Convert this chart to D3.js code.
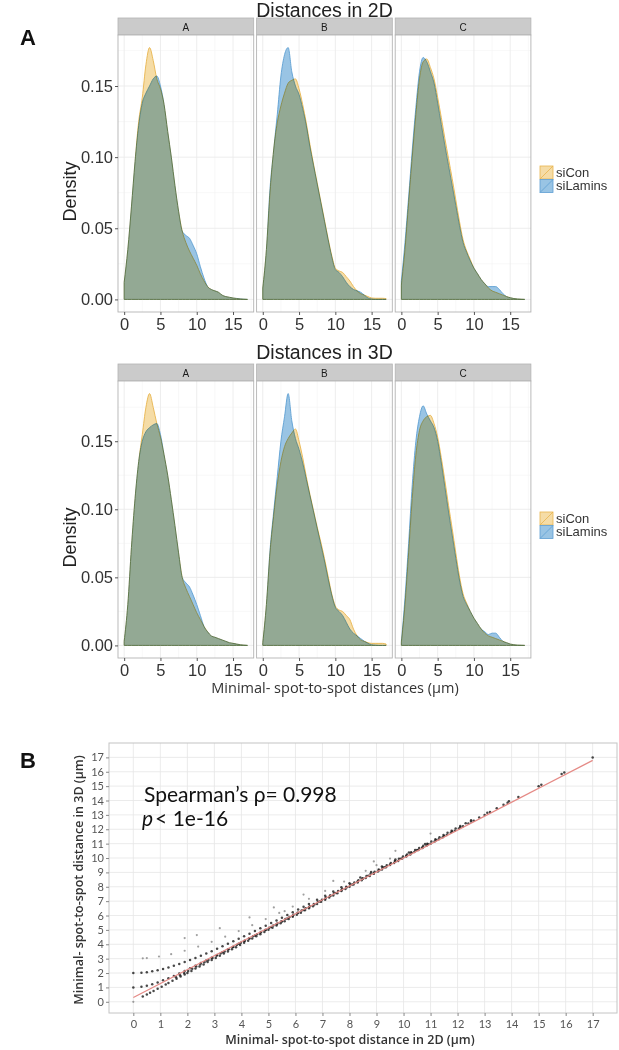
<!DOCTYPE html>
<html><head><meta charset="utf-8">
<script src="https://cdn.jsdelivr.net/npm/d3@7"></script>
<style>body{margin:0;background:#fff}svg{display:block}</style>
</head><body>
<svg id="c" width="619" height="1050"></svg>
<script>
// ---------------- DATA ----------------
const facets = ["A", "B", "C"];
const groups = ["siCon", "siLamins"];
const gridX = [0,0.5,1,1.5,2,2.5,3,3.5,4,4.5,5,5.5,6,6.5,7,7.5,8,8.5,9,9.5,10,10.5,11,11.5,12,12.5,13,13.5,14,14.5,15,15.5,16,16.5,17];
const densTicks = [0, 0.05, 0.10, 0.15];
const distTicks = [0, 5, 10, 15];

// Distances in 2D – density estimates at gridX
const d2A_siCon    = [0.012,0.035,0.065,0.097,0.125,0.142,0.165,0.177,0.168,0.155,0.148,0.137,0.118,0.100,0.080,0.062,0.048,0.040,0.034,0.029,0.024,0.018,0.013,0.009,0.007,0.006,0.005,0.003,0.002,0.0015,0.001,0.0006,0.0003,0.0001,0];
const d2A_siLamins = [0.012,0.035,0.065,0.097,0.122,0.138,0.145,0.150,0.155,0.157,0.150,0.137,0.118,0.100,0.080,0.062,0.048,0.045,0.043,0.038,0.032,0.023,0.015,0.009,0.007,0.006,0.005,0.003,0.002,0.0015,0.001,0.0007,0.0004,0.0002,0];
const d2B_siCon    = [0.008,0.035,0.075,0.105,0.124,0.136,0.145,0.152,0.154,0.155,0.148,0.137,0.124,0.109,0.095,0.082,0.069,0.056,0.043,0.031,0.022,0.020,0.019,0.016,0.013,0.009,0.006,0.004,0.003,0.002,0.001,0.0008,0.0008,0.0008,0.0005];
const d2B_siLamins = [0.008,0.035,0.078,0.105,0.130,0.157,0.172,0.177,0.160,0.150,0.144,0.134,0.122,0.107,0.094,0.081,0.068,0.055,0.042,0.030,0.021,0.019,0.016,0.012,0.009,0.007,0.006,0.005,0.003,0.001,0.0003,0,0,0,0];
const d2C_siCon    = [0.010,0.035,0.068,0.100,0.130,0.155,0.167,0.169,0.163,0.155,0.142,0.128,0.113,0.099,0.085,0.070,0.055,0.042,0.034,0.028,0.022,0.018,0.014,0.011,0.008,0.006,0.005,0.004,0.003,0.002,0.0012,0.0006,0.0003,0.0001,0];
const d2C_siLamins = [0.013,0.040,0.072,0.105,0.135,0.160,0.170,0.167,0.160,0.152,0.138,0.123,0.108,0.094,0.080,0.066,0.052,0.040,0.033,0.027,0.022,0.018,0.014,0.011,0.009,0.009,0.009,0.007,0.004,0.002,0.0012,0.0006,0.0003,0.0001,0];

// Distances in 3D
const d3A_siCon    = [0.003,0.030,0.072,0.108,0.135,0.155,0.175,0.185,0.175,0.163,0.153,0.140,0.125,0.107,0.088,0.068,0.050,0.042,0.036,0.030,0.024,0.019,0.014,0.010,0.007,0.006,0.005,0.004,0.003,0.002,0.0015,0.001,0.0005,0.0002,0];
const d3A_siLamins = [0.003,0.030,0.072,0.108,0.135,0.150,0.157,0.160,0.162,0.163,0.155,0.140,0.125,0.107,0.088,0.068,0.050,0.046,0.043,0.037,0.030,0.022,0.014,0.010,0.007,0.006,0.005,0.004,0.003,0.002,0.0015,0.001,0.0005,0.0002,0];
const d3B_siCon    = [0.002,0.030,0.068,0.095,0.118,0.135,0.146,0.152,0.156,0.159,0.150,0.138,0.124,0.111,0.099,0.087,0.076,0.064,0.051,0.038,0.029,0.026,0.025,0.022,0.019,0.012,0.007,0.004,0.003,0.002,0.0015,0.0015,0.0015,0.0015,0.001];
const d3B_siLamins = [0.002,0.030,0.070,0.098,0.124,0.150,0.168,0.185,0.165,0.152,0.144,0.134,0.122,0.110,0.098,0.086,0.074,0.062,0.049,0.037,0.028,0.025,0.022,0.017,0.012,0.009,0.007,0.005,0.003,0.0015,0.0005,0.0002,0,0,0];
const d3C_siCon    = [0.002,0.030,0.068,0.108,0.140,0.158,0.165,0.168,0.169,0.163,0.153,0.138,0.121,0.103,0.086,0.068,0.051,0.038,0.031,0.025,0.020,0.016,0.012,0.009,0.007,0.006,0.005,0.004,0.003,0.002,0.001,0.0005,0.0002,0.0001,0];
const d3C_siLamins = [0.003,0.035,0.075,0.118,0.150,0.168,0.176,0.170,0.165,0.160,0.150,0.134,0.116,0.098,0.081,0.064,0.048,0.036,0.030,0.025,0.020,0.016,0.012,0.010,0.008,0.009,0.009,0.006,0.003,0.002,0.001,0.0005,0.0002,0.0001,0];

// Panel B: 2D vs 3D minimal distances [2D, 3D]
const sameLayer = [[0.35,0.36],[0.5,0.5],[0.62,0.63],[0.75,0.75],[0.9,0.91],[1.05,1.05],[1.2,1.21],[1.3,1.3],[1.45,1.46],[1.6,1.6],[1.75,1.76],[1.9,1.9],[2.0,2.01],[2.15,2.15],[2.3,2.31],[2.45,2.45],[2.6,2.6],[2.75,2.76],[2.9,2.9],[3.05,3.05],[3.2,3.21],[3.35,3.35],[3.5,3.5],[3.65,3.66],[3.8,3.8],[3.95,3.95],[4.1,4.11],[4.25,4.25],[4.4,4.4],[4.55,4.56],[4.7,4.7],[4.85,4.85],[5.0,5.01],[5.15,5.15],[5.3,5.3],[5.45,5.46],[5.6,5.6],[5.75,5.75],[5.9,5.91],[6.05,6.05],[6.2,6.2],[6.35,6.36],[6.5,6.5],[6.65,6.65],[6.8,6.81],[6.95,6.95],[7.1,7.1],[7.25,7.26],[7.4,7.4],[7.55,7.55],[7.7,7.71],[7.85,7.85],[8.0,8.0],[8.15,8.16],[8.3,8.3],[8.45,8.45],[8.6,8.61],[8.75,8.75],[8.9,8.9],[9.05,9.06],[9.2,9.2],[9.35,9.35],[9.5,9.51],[9.65,9.65],[9.8,9.8],[9.95,9.96],[10.1,10.1],[10.25,10.25],[10.4,10.41],[10.55,10.55],[10.7,10.7],[10.85,10.86],[11.0,11.0],[11.15,11.15],[11.3,11.31],[11.45,11.45],[11.6,11.6],[11.75,11.76],[11.9,11.9],[12.05,12.05],[12.2,12.21],[12.4,12.4],[12.6,12.6],[12.8,12.81],[13.0,13.0],[13.2,13.2],[13.45,13.46],[13.7,13.7],[13.85,13.85],[14.25,14.25],[15.0,15.0],[15.1,15.1],[15.85,15.85],[15.95,15.95],[17.0,17.0]];
const nearLayer = [[1.58,1.7],[1.73,1.85],[1.88,2.0],[2.03,2.15],[2.18,2.3],[2.33,2.45],[2.48,2.6],[2.63,2.75],[2.78,2.9],[2.93,3.05],[3.08,3.2],[3.23,3.35],[3.38,3.5],[3.53,3.65],[3.68,3.8],[3.83,3.95],[3.98,4.1],[4.13,4.25],[4.28,4.4],[4.43,4.55],[4.58,4.7],[4.73,4.85],[4.88,5.0],[5.03,5.15],[5.18,5.3],[5.33,5.45],[5.48,5.6],[5.63,5.75],[5.78,5.9],[5.93,6.05],[6.08,6.2],[6.23,6.35],[6.38,6.5],[6.53,6.65],[6.68,6.8],[6.83,6.95],[6.98,7.1],[7.13,7.25],[7.28,7.4],[7.43,7.55],[7.58,7.7],[7.73,7.85],[7.88,8.0],[8.03,8.15],[8.18,8.3],[8.33,8.45],[8.48,8.6],[8.63,8.75],[8.78,8.9],[8.93,9.05],[9.08,9.2],[9.23,9.35],[9.38,9.5],[9.53,9.65],[9.68,9.8],[9.83,9.95],[9.98,10.1],[10.13,10.25],[10.28,10.4],[10.43,10.55],[10.58,10.7],[10.73,10.85],[10.88,11.0],[11.03,11.15],[11.18,11.3],[11.33,11.45],[11.48,11.6],[11.63,11.75],[11.78,11.9],[11.93,12.05],[12.1,12.22],[12.3,12.42],[12.5,12.62]];
const oneLayer = [[0,1.0],[0.3,1.04],[0.5,1.12],[0.7,1.22],[0.9,1.35],[1.1,1.49],[1.3,1.64],[1.5,1.80],[1.7,1.97],[1.9,2.15],[2.1,2.33],[2.3,2.51],[2.5,2.69],[2.7,2.88],[2.9,3.07],[3.1,3.26],[3.3,3.45],[3.5,3.64],[3.7,3.83],[3.9,4.03],[4.1,4.22],[4.3,4.41],[4.5,4.61],[4.7,4.81],[4.9,5.0],[5.1,5.2],[5.3,5.39],[5.5,5.59],[5.7,5.79],[5.9,5.98],[6.1,6.18],[6.3,6.38],[6.5,6.58],[6.7,6.77],[6.9,6.97],[7.1,7.17],[7.3,7.37],[7.5,7.57],[7.7,7.76],[7.9,7.96],[8.1,8.16],[8.3,8.36],[8.5,8.56],[8.7,8.76],[8.9,8.96],[9.1,9.15],[9.3,9.35],[9.5,9.55],[9.7,9.75],[9.9,9.95],[10.1,10.15],[10.3,10.35],[10.5,10.55],[10.7,10.75],[10.9,10.95],[11.2,11.24],[11.5,11.54],[11.8,11.84],[12.1,12.14],[12.5,12.54],[13.1,13.14],[13.9,13.94]];
const twoLayers = [[0,2.0],[0.3,2.02],[0.5,2.06],[0.7,2.12],[0.9,2.19],[1.1,2.28],[1.3,2.39],[1.5,2.5],[1.7,2.62],[1.9,2.76],[2.1,2.9],[2.3,3.05],[2.5,3.2],[2.7,3.36],[2.9,3.52],[3.1,3.69],[3.3,3.86],[3.5,4.03],[3.7,4.21],[3.9,4.38],[4.1,4.56],[4.3,4.74],[4.5,4.92],[4.7,5.11],[4.9,5.29],[5.1,5.48],[5.3,5.66],[5.5,5.85],[5.7,6.04],[5.9,6.23],[6.1,6.42],[6.3,6.61],[6.5,6.8],[6.8,7.09],[7.1,7.38],[7.4,7.67],[7.7,7.96],[8.0,8.25],[8.4,8.64],[8.8,9.02],[9.2,9.41],[9.7,9.9],[10.2,10.39],[10.8,10.98]];
const threeLayers = [[0,0],[0.35,3.02],[0.5,3.04],[0.95,3.15],[1.4,3.31],[1.9,3.55],[2.4,3.84],[2.9,4.17],[3.4,4.53],[3.9,4.92],[4.4,5.33],[4.9,5.75],[5.4,6.18],[5.9,6.62],[6.5,7.16],[7.1,7.71],[7.8,8.36],[8.6,9.11],[9.5,9.96]];
const farLayers = [[1.9,4.43],[2.35,4.64],[3.2,5.12],[4.3,5.87],[5.2,6.56],[6.3,7.46],[7.4,8.41],[8.9,9.76],[9.7,10.5],[11.0,11.7],[5.6,6.3],[9.0,9.5]];
const fitIntercept = 0.3, fitSlope = 0.97;
const scatterTicks = [0,1,2,3,4,5,6,7,8,9,10,11,12,13,14,15,16,17];

// ---------------- DRAW ----------------
const svg = d3.select("#c");
const fillCol = {siCon: "#F5DCA6", siLamins: "#99C4E4"};
const lineCol = {siCon: "#E8B44E", siLamins: "#5E9FD3"};
const SANS = "'Liberation Sans', Arial, sans-serif";
const CAL = "Lato, 'Open Sans', sans-serif";

const panelLeft = [118, 256.6, 395.2], panelW = 135.7;

function densitySection(cfg) {
  const g = svg.append("g");
  const allMax = d3.max(cfg.series.flat(2));
  const y = d3.scaleLinear([-0.05 * allMax, 1.05 * allMax], [cfg.plotBottom, cfg.plotTop]);
  g.append("text").attr("x", 324.5).attr("y", cfg.titleY).attr("text-anchor", "middle")
    .attr("font-family", SANS).attr("font-size", 19.5).attr("fill", "#222").text(cfg.title);

  facets.forEach((f, i) => {
    const x = d3.scaleLinear([-0.85, 17.85], [panelLeft[i], panelLeft[i] + panelW]);
    const pg = g.append("g");
    pg.append("rect").attr("x", x.range()[0]).attr("y", cfg.stripTop).attr("width", panelW)
      .attr("height", cfg.plotTop - cfg.stripTop).attr("fill", "#cbcbcb").attr("stroke", "#b3b3b3").attr("stroke-width", 0.8);
    pg.append("text").attr("x", x.range()[0] + panelW / 2).attr("y", cfg.stripTop + 12.5)
      .attr("text-anchor", "middle").attr("font-family", SANS).attr("font-size", 10).attr("fill", "#1a1a1a").text(f);
    pg.append("rect").attr("x", x.range()[0]).attr("y", cfg.plotTop).attr("width", panelW)
      .attr("height", cfg.plotBottom - cfg.plotTop).attr("fill", "#fff");
    const minorX = [2.5, 7.5, 12.5, 17.5], minorY = [0.025, 0.075, 0.125, 0.175];
    pg.selectAll(".mx").data(minorX).join("line").attr("x1", d => x(d)).attr("x2", d => x(d))
      .attr("y1", cfg.plotTop).attr("y2", cfg.plotBottom).attr("stroke", "#f4f4f4").attr("stroke-width", 0.6);
    pg.selectAll(".my").data(minorY.filter(v => y(v) > cfg.plotTop)).join("line").attr("y1", d => y(d)).attr("y2", d => y(d))
      .attr("x1", x.range()[0]).attr("x2", x.range()[1]).attr("stroke", "#f4f4f4").attr("stroke-width", 0.6);
    pg.selectAll(".gx").data(distTicks).join("line").attr("x1", d => x(d)).attr("x2", d => x(d))
      .attr("y1", cfg.plotTop).attr("y2", cfg.plotBottom).attr("stroke", "#ebebeb").attr("stroke-width", 0.9);
    pg.selectAll(".gy").data(densTicks).join("line").attr("y1", d => y(d)).attr("y2", d => y(d))
      .attr("x1", x.range()[0]).attr("x2", x.range()[1]).attr("stroke", "#ebebeb").attr("stroke-width", 0.9);

    const area = d3.area().x(d => x(d[0])).y0(y(0)).y1(d => y(d[1])).curve(d3.curveMonotoneX);
    const dg = pg.append("g").style("isolation", "isolate");
    groups.forEach((grp, k) => {
      const pts = gridX.map((gx, j) => [gx, cfg.series[i][k][j]]);
      dg.append("path").attr("d", area(pts)).attr("fill", fillCol[grp])
        .attr("stroke", lineCol[grp]).attr("stroke-width", 0.9).style("mix-blend-mode", "multiply");
    });
    pg.append("rect").attr("x", x.range()[0]).attr("y", cfg.plotTop).attr("width", panelW)
      .attr("height", cfg.plotBottom - cfg.plotTop).attr("fill", "none").attr("stroke", "#b3b3b3").attr("stroke-width", 0.9);

    const ax = pg.append("g").attr("transform", `translate(0,${cfg.plotBottom})`)
      .call(d3.axisBottom(x).tickValues(distTicks).tickSize(3).tickPadding(3));
    ax.select(".domain").remove();
    ax.selectAll("line").attr("stroke", "#555");
    ax.selectAll("text").attr("font-family", SANS).attr("font-size", 16.5).attr("fill", "#333");

    if (i === 0) {
      const ay = pg.append("g").attr("transform", `translate(${x.range()[0]},0)`)
        .call(d3.axisLeft(y).tickValues(densTicks).tickFormat(d3.format(".2f")).tickSize(3).tickPadding(2));
      ay.select(".domain").remove();
      ay.selectAll("line").attr("stroke", "#555");
      ay.selectAll("text").attr("font-family", SANS).attr("font-size", 16.5).attr("fill", "#333");
    }
  });

  const midY = (cfg.plotTop + cfg.plotBottom) / 2;
  g.append("text").attr("transform", `translate(76,${midY + 18}) rotate(-90)`).attr("text-anchor", "middle")
    .attr("font-family", SANS).attr("font-size", 18).attr("fill", "#222").text("Density");

  const lg = g.append("g").attr("transform", `translate(540,${midY - 7.5})`);
  groups.forEach((grp, k) => {
    const ky = k * 13.5;
    lg.append("rect").attr("x", 0).attr("y", ky).attr("width", 13).attr("height", 13)
      .attr("fill", fillCol[grp]).attr("stroke", lineCol[grp]).attr("stroke-width", 0.8);
    lg.append("line").attr("x1", 0).attr("y1", ky + 13).attr("x2", 13).attr("y2", ky)
      .attr("stroke", lineCol[grp]).attr("stroke-width", 0.8);
    lg.append("text").attr("x", 16).attr("y", ky + 10.5).attr("font-family", SANS)
      .attr("font-size", 13).attr("fill", "#333").text(grp);
  });
}

densitySection({title: "Distances in 2D", titleY: 17, stripTop: 18, plotTop: 35, plotBottom: 312,
  series: [[d2A_siCon, d2A_siLamins], [d2B_siCon, d2B_siLamins], [d2C_siCon, d2C_siLamins]]});
densitySection({title: "Distances in 3D", titleY: 359, stripTop: 364, plotTop: 381, plotBottom: 658,
  series: [[d3A_siCon, d3A_siLamins], [d3B_siCon, d3B_siLamins], [d3C_siCon, d3C_siLamins]]});

svg.append("text").attr("x", 335).attr("y", 693).attr("text-anchor", "middle")
  .attr("font-family", "'Open Sans', sans-serif").attr("font-size", 14.5).attr("fill", "#333")
  .text("Minimal- spot-to-spot distances (µm)");

svg.append("text").attr("x", 20).attr("y", 45).attr("font-family", SANS).attr("font-weight", "bold")
  .attr("font-size", 22).attr("fill", "#111").text("A");
svg.append("text").attr("x", 20).attr("y", 768).attr("font-family", SANS).attr("font-weight", "bold")
  .attr("font-size", 22).attr("fill", "#111").text("B");

// ---------------- Panel B scatter ----------------
const bx = d3.scaleLinear([-0.9, 17.9], [109, 617]);
const by = d3.scaleLinear([-0.78, 18.0], [1013, 743]);
const sg = svg.append("g");
sg.append("rect").attr("x", 109).attr("y", 743).attr("width", 508).attr("height", 270).attr("fill", "#fff");
sg.selectAll(".vx").data(scatterTicks).join("line").attr("x1", d => bx(d)).attr("x2", d => bx(d))
  .attr("y1", 743).attr("y2", 1013).attr("stroke", "#e6e6e6").attr("stroke-width", 0.8);
sg.selectAll(".hy").data(scatterTicks).join("line").attr("y1", d => by(d)).attr("y2", d => by(d))
  .attr("x1", 109).attr("x2", 617).attr("stroke", "#e6e6e6").attr("stroke-width", 0.8);

const sparsePts = [].concat(farLayers, threeLayers);
sg.selectAll(".sp").data(sparsePts).join("circle").attr("cx", d => bx(d[0])).attr("cy", d => by(d[1]))
  .attr("r", 1.1).attr("fill", "#777").attr("fill-opacity", 0.7);
const densePts = [].concat(twoLayers, oneLayer, nearLayer, sameLayer);
sg.selectAll(".pt").data(densePts).join("circle").attr("cx", d => bx(d[0])).attr("cy", d => by(d[1]))
  .attr("r", 1.25).attr("fill", "#1a1a1a").attr("fill-opacity", 0.8);

sg.append("line").attr("x1", bx(0)).attr("y1", by(fitIntercept)).attr("x2", bx(17))
  .attr("y2", by(fitIntercept + fitSlope * 17)).attr("stroke", "#e58a86").attr("stroke-width", 1.2);

sg.append("rect").attr("x", 109).attr("y", 743).attr("width", 508).attr("height", 270)
  .attr("fill", "none").attr("stroke", "#c4c4c4").attr("stroke-width", 1);

const bax = sg.append("g").attr("transform", "translate(0,1013)")
  .call(d3.axisBottom(bx).tickValues(scatterTicks).tickSize(3).tickPadding(4));
bax.select(".domain").remove();
bax.selectAll("line").attr("stroke", "#888");
bax.selectAll("text").attr("font-family", CAL).attr("font-size", 11).attr("fill", "#555");
const bay = sg.append("g").attr("transform", "translate(109,0)")
  .call(d3.axisLeft(by).tickValues(scatterTicks).tickSize(3).tickPadding(2));
bay.select(".domain").remove();
bay.selectAll("line").attr("stroke", "#888");
bay.selectAll("text").attr("font-family", CAL).attr("font-size", 11).attr("fill", "#555");

sg.append("text").attr("x", 350).attr("y", 1044).attr("text-anchor", "middle")
  .attr("font-family", "'Open Sans', sans-serif").attr("font-weight", 600).attr("font-size", 12.5).attr("fill", "#333")
  .text("Minimal- spot-to-spot distance in 2D (µm)");
sg.append("text").attr("transform", "translate(83,880) rotate(-90)").attr("text-anchor", "middle")
  .attr("font-family", "'Open Sans', sans-serif").attr("font-weight", 600).attr("font-size", 12.5).attr("fill", "#333")
  .text("Minimal- spot-to-spot distance in 3D (µm)");

sg.append("text").attr("x", 144).attr("y", 802).attr("font-family", CAL).attr("font-size", 21).attr("fill", "#111")
  .text("Spearman\u2019s \u03c1= 0.998");
const pt = sg.append("text").attr("x", 142).attr("y", 826).attr("font-family", CAL).attr("font-size", 21).attr("fill", "#111");
pt.append("tspan").attr("font-style", "italic").text("p");
pt.append("tspan").attr("dx", 2).text("< 1e-16");
</script>
</body></html>
